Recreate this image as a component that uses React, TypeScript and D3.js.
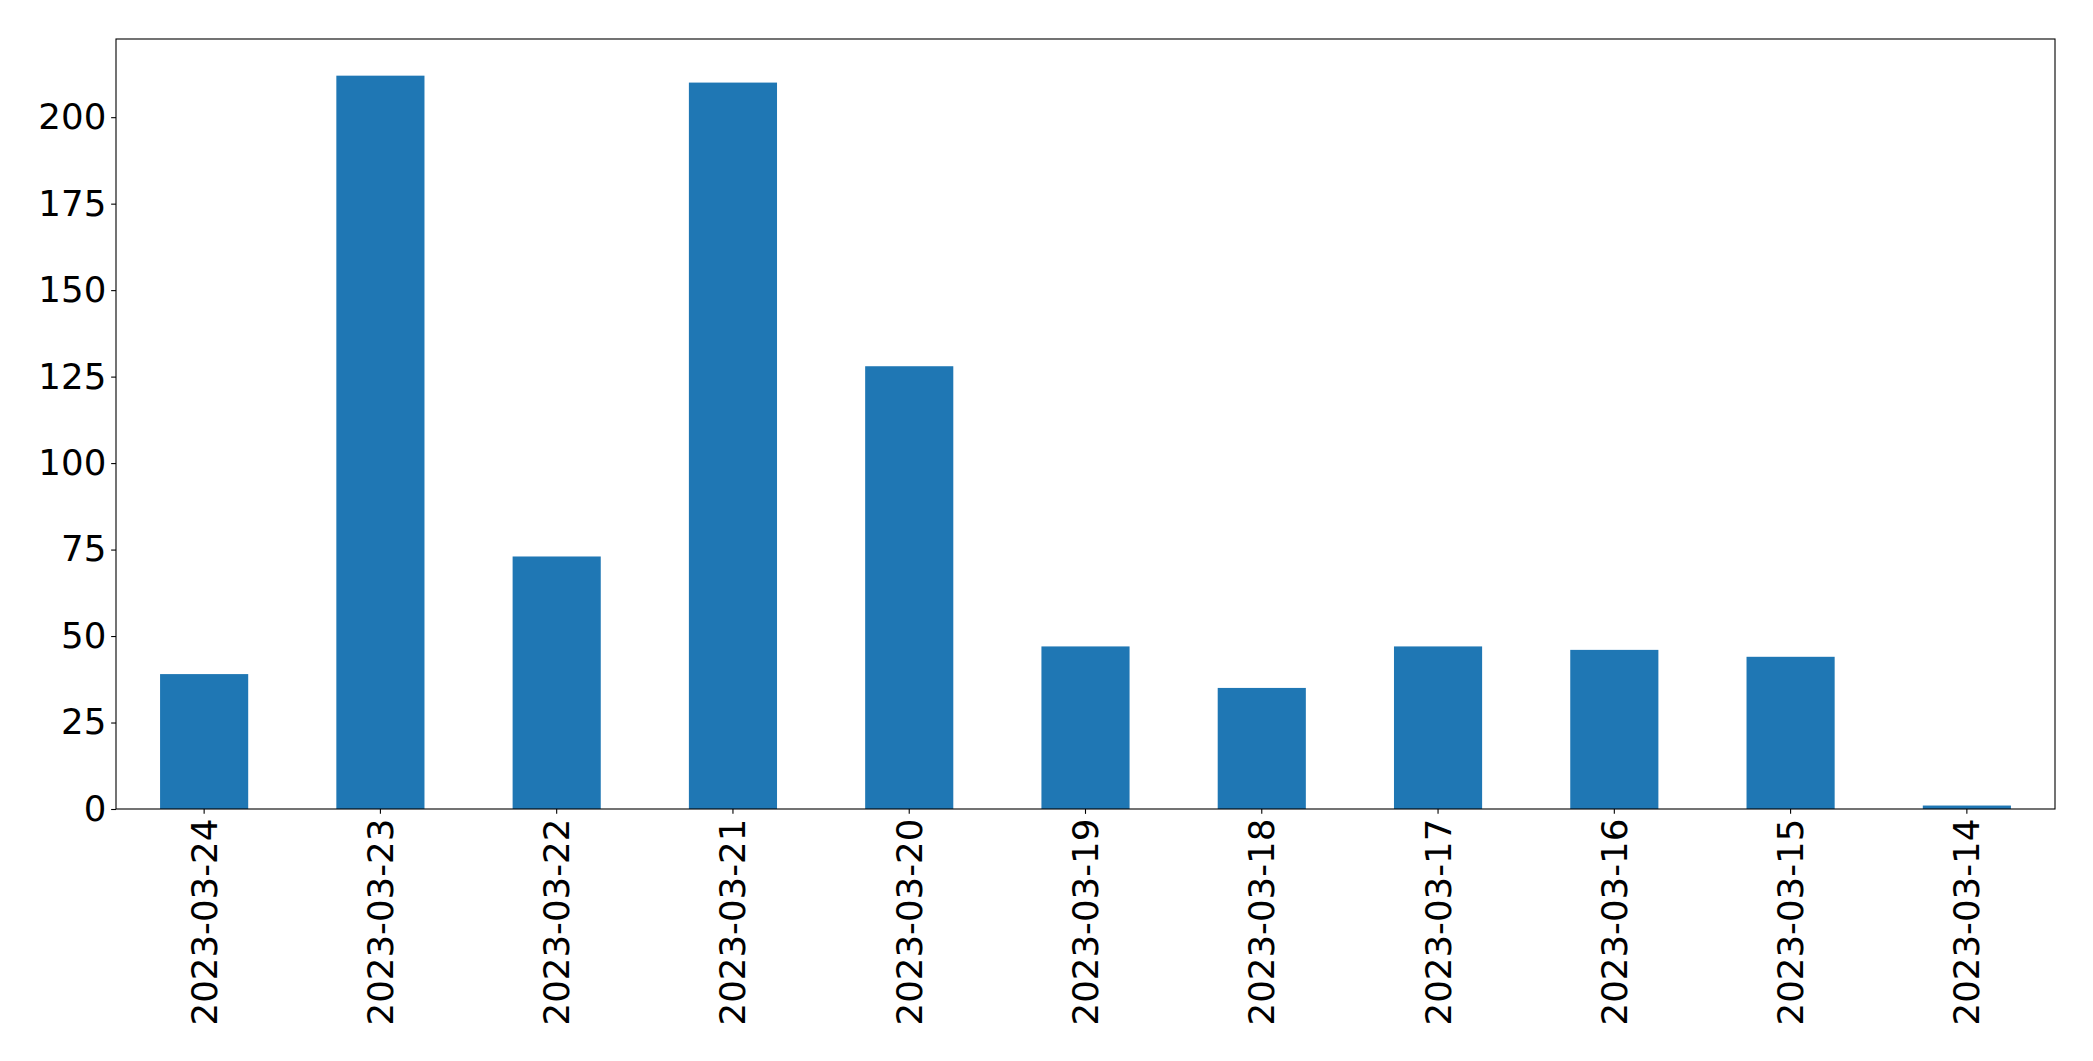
import { useRef, useEffect } from "react";
import * as d3 from "d3";

const dates = [
  "2023-03-24", "2023-03-23", "2023-03-22", "2023-03-21", "2023-03-20", "2023-03-19",
  "2023-03-18", "2023-03-17", "2023-03-16", "2023-03-15", "2023-03-14",
];
const counts = [39, 212, 73, 210, 128, 47, 35, 47, 46, 44, 1];
const yTicks = [0, 25, 50, 75, 100, 125, 150, 175, 200];

export default function App() {
  const svgRef = useRef<SVGSVGElement>(null);

  useEffect(() => {
    const svg = svgRef.current;
    if (!svg) return;

    const width = 2093;
    const height = 1061;
    const margin = { top: 39, right: 38, bottom: 252, left: 116 };
    const innerW = width - margin.left - margin.right;
    const innerH = height - margin.top - margin.bottom;
    const font = "DejaVu Sans, sans-serif";
    const fs = 35.6;
    const tick = 4.86;

    const x = d3.scaleBand().domain(dates).range([0, innerW]).paddingInner(0.5).paddingOuter(0.25);
    const y = d3.scaleLinear().domain([0, 222.6]).range([innerH, 0]);

    const sel = d3.select(svg);
    sel.selectAll("*").remove();
    sel.attr("width", width).attr("height", height);

    const g = sel.append("g").attr("transform", `translate(${margin.left},${margin.top})`);

    // Bars
    g.selectAll("rect.bar")
      .data(dates)
      .join("rect")
      .attr("class", "bar")
      .attr("x", (d) => x(d)!)
      .attr("width", x.bandwidth())
      .attr("y", (_, i) => y(counts[i]))
      .attr("height", (_, i) => y(0) - y(counts[i]))
      .attr("fill", "#1f77b4");

    // Y axis
    g.append("g")
      .call(d3.axisLeft(y).tickValues(yTicks).tickSize(tick).tickPadding(tick).tickFormat((d) => `${d}`))
      .call((a) => a.select(".domain").remove())
      .call((a) => a.selectAll("line").attr("stroke", "#000").attr("stroke-width", 1.1))
      .call((a) =>
        a.selectAll("text").attr("fill", "#000").attr("font-size", fs).attr("font-family", font)
      );

    // X axis
    g.append("g")
      .attr("transform", `translate(0,${innerH})`)
      .call(d3.axisBottom(x).tickSize(tick).tickPadding(tick))
      .call((a) => a.select(".domain").remove())
      .call((a) => a.selectAll("line").attr("stroke", "#000").attr("stroke-width", 1.1))
      .call((a) =>
        a
          .selectAll("text")
          .attr("fill", "#000")
          .attr("font-size", fs)
          .attr("font-family", font)
          .attr("text-anchor", "end")
          .attr("transform", "rotate(-90)")
          .attr("x", -(tick * 2))
          .attr("y", 0)
          .attr("dy", "0.35em")
      );

    // Frame
    g.append("rect")
      .attr("width", innerW)
      .attr("height", innerH)
      .attr("fill", "none")
      .attr("stroke", "#000")
      .attr("stroke-width", 1.1);
  }, []);

  return <svg ref={svgRef} style={{ position: "absolute", left: 0, top: 0, background: "#fff" }} />;
}
